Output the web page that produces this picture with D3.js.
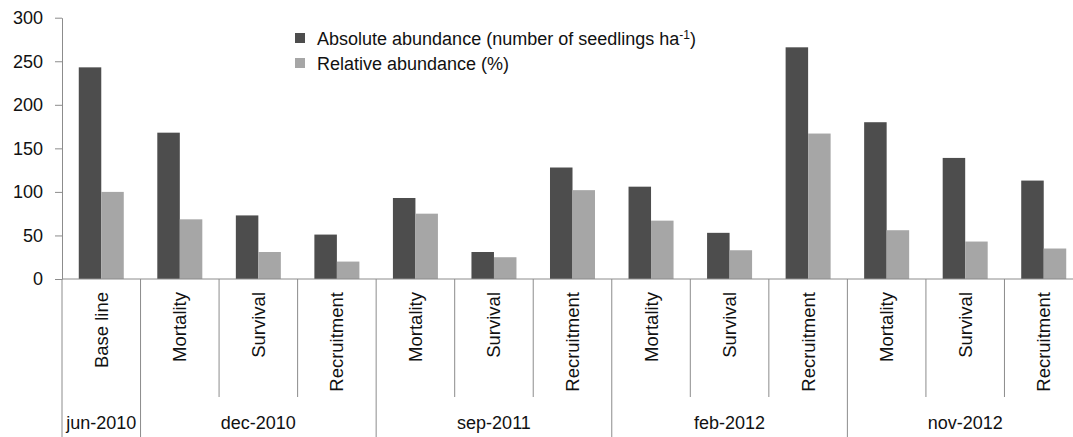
<!DOCTYPE html>
<html>
<head>
<meta charset="utf-8">
<script src="https://cdn.jsdelivr.net/npm/d3@7/dist/d3.min.js"></script>
<style>
  html, body { margin: 0; padding: 0; background: #fff; }
  svg { display: block; }
  text { font-family: "Liberation Sans", Arial, sans-serif; fill: #111; }
</style>
</head>
<body>
<svg id="chart" width="1073" height="437"></svg>
<script>
// ---- data ----
const categories = ["Base line","Mortality","Survival","Recruitment","Mortality","Survival","Recruitment","Mortality","Survival","Recruitment","Mortality","Survival","Recruitment"];
const periods = ["jun-2010","dec-2010","sep-2011","feb-2012","nov-2012"];
const periodSizes = [1,3,3,3,3];
const absoluteAbundance = [243,168,73,51,93,31,128,106,53,266,180,139,113];
const relativeAbundance = [100,68.5,31,20,75,25,102,67,33,167,56,43,35];
const seriesNames = ["Absolute abundance (number of seedlings ha", "Relative abundance (%)"];
const yTicks = [0,50,100,150,200,250,300];

// ---- layout ----
const svg = d3.select("#chart");
const plotLeft = 62, plotRight = 1083, plotTop = 17.7, plotBase = 279;
const colors = ["#4d4d4d", "#a6a6a6"];
const lineColor = "#8c8c8c";

const idx = d3.range(categories.length);
const x0 = d3.scaleBand().domain(idx).range([plotLeft, plotRight]).paddingInner(0).paddingOuter(0);
const x1 = d3.scaleBand().domain([0,1]).range([0, x0.bandwidth()]).paddingInner(0).paddingOuter(0.745);
const y = d3.scaleLinear().domain([0, 300]).range([plotBase, plotTop]);

const series = [absoluteAbundance, relativeAbundance];

// bars
const g = svg.append("g");
series.forEach((vals, s) => {
  g.selectAll(".bar" + s).data(vals).enter().append("rect")
    .attr("class", "bar" + s)
    .attr("x", (d, i) => x0(i) + x1(s))
    .attr("y", d => y(d))
    .attr("width", x1.bandwidth())
    .attr("height", d => plotBase - y(d))
    .attr("fill", colors[s]);
});

// y axis
const yAxis = d3.axisLeft(y).tickValues(yTicks).tickSize(7).tickSizeOuter(0).tickPadding(12);
const ya = svg.append("g").attr("transform", `translate(${plotLeft},0)`).call(yAxis);
ya.selectAll("path, line").attr("stroke", lineColor);
ya.selectAll("text").style("font-size", "18px").attr("fill", "#111").style("font-family", '"Liberation Sans", Arial, sans-serif');

// x axis baseline
svg.append("line").attr("x1", plotLeft).attr("x2", plotRight).attr("y1", plotBase).attr("y2", plotBase).attr("stroke", lineColor);

// group boundaries
const groupStarts = [];
let acc = 0;
periodSizes.forEach(n => { groupStarts.push(acc); acc += n; });
const boundarySet = new Set(groupStarts.concat([categories.length]));
d3.range(categories.length + 1).forEach(i => {
  const xx = i < categories.length ? x0(i) : plotRight;
  const long = boundarySet.has(i);
  svg.append("line")
    .attr("x1", xx).attr("x2", xx)
    .attr("y1", plotBase).attr("y2", long ? 437 : 397)
    .attr("stroke", lineColor);
});

// category labels (rotated)
idx.forEach(i => {
  const cx = x0(i) + x0.bandwidth() / 2;
  svg.append("text")
    .attr("transform", `translate(${cx + 6.5},292) rotate(-90)`)
    .attr("text-anchor", "end")
    .style("font-size", "18.5px")
    .text(categories[i]);
});

// period labels
periods.forEach((p, k) => {
  const s = groupStarts[k], n = periodSizes[k];
  const cx = (x0(s) + (s + n < categories.length ? x0(s + n) : plotRight)) / 2;
  svg.append("text")
    .attr("x", cx).attr("y", 429)
    .attr("text-anchor", "middle")
    .style("font-size", "18px")
    .text(p);
});

// legend
const legendY = [38, 63];
seriesNames.forEach((name, s) => {
  svg.append("rect").attr("x", 295).attr("y", legendY[s] - 5).attr("width", 10).attr("height", 10).attr("fill", colors[s]);
  const t = svg.append("text").attr("x", 317).attr("y", legendY[s] + 6.5).style("font-size", "18px").text(name);
  if (s === 0) {
    t.append("tspan").attr("dy", -6).style("font-size", "12px").text("-1");
    t.append("tspan").attr("dy", 6).text(")");
  }
});
</script>
</body>
</html>
